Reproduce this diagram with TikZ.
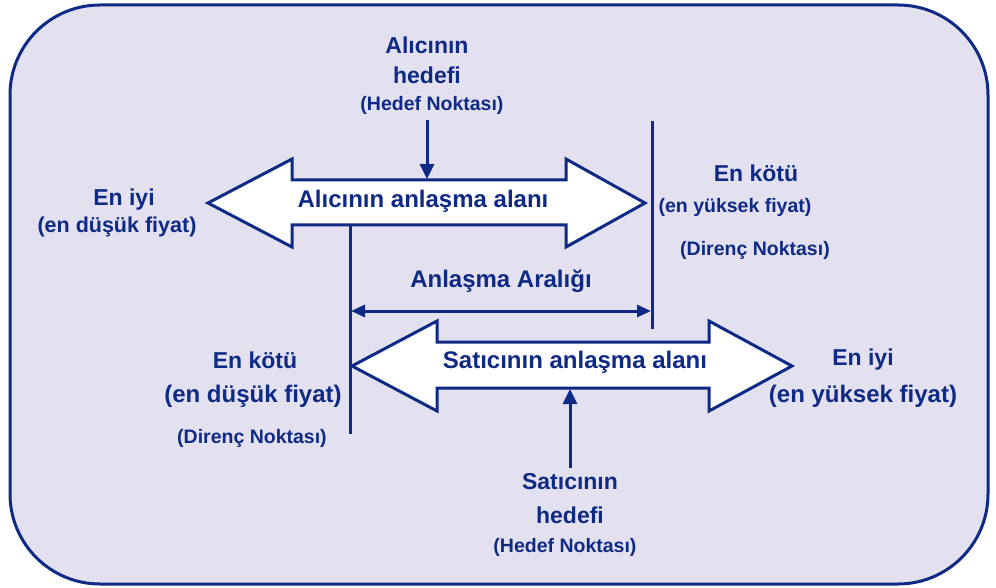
\documentclass[tikz,border=0pt]{standalone}
\usepackage{fontspec}
\setmainfont{Liberation Sans}
\usetikzlibrary{arrows.meta}
\definecolor{navy}{HTML}{0E2A85}
\definecolor{bgfill}{HTML}{E3E1EF}
\tikzset{
  lbl/.style={text=navy,font=\bfseries\fontsize{23}{26}\selectfont,align=center,inner sep=0pt},
  big/.style={text=navy,font=\bfseries\fontsize{24}{27}\selectfont,align=center,inner sep=0pt},
  mid/.style={text=navy,font=\bfseries\fontsize{21.5}{24}\selectfont,align=center,inner sep=0pt},
  sml/.style={text=navy,font=\bfseries\fontsize{19.5}{22}\selectfont,align=center,inner sep=0pt},
  bigarrow/.style={draw=navy,line width=3pt,fill=white,line join=miter},
  vline/.style={draw=navy,line width=3pt},
  ptr/.style={draw=navy,line width=3pt,-{Triangle[length=15pt,width=14pt]}},
  rng/.style={draw=navy,line width=3pt,{Triangle[length=14pt,width=12pt]}-{Triangle[length=14pt,width=12pt]}},
}
\begin{document}
\begin{tikzpicture}[x=1pt,y=-1pt]
\useasboundingbox (0,0) rectangle (996,588);
\draw[draw=navy,fill=bgfill,line width=3pt,rounded corners=90pt] (10,5) rectangle (988,584);
% buyer zone arrow
\draw[bigarrow] (208,203) -- (292,159) -- (292,180) -- (566,180) -- (566,159) -- (645,203)
  -- (566,247) -- (566,225) -- (292,225) -- (292,247) -- cycle;
\node[big] (buyer) at (423,201) {Alıcının anlaşma alanı};
% seller zone arrow
\draw[bigarrow] (352,366) -- (437,321) -- (437,342) -- (709,342) -- (709,321) -- (792,366)
  -- (709,411) -- (709,388) -- (437,388) -- (437,411) -- cycle;
\node[big] (seller) at (575,362) {Satıcının anlaşma alanı};
% resistance lines
\coordinate (l1) at (350,225);
\coordinate (l2) at (350,434);
\coordinate (r1) at (652,121);
\coordinate (r2) at (652,329);
\draw[vline] (l1) -- (l2);
\draw[vline] (r1) -- (r2);
% agreement range
\coordinate (ra) at (351,311);
\coordinate (rb) at (651,311);
\draw[rng] (ra) -- (rb);
\node[big] (range) at (501,281) {Anlaşma Aralığı};
% buyer target
\node[lbl] (bt1) at (427,45) {Alıcının};
\node[lbl] (bt2) at (427,75) {hedefi};
\node[sml] (bt3) at (432,105) {(Hedef Noktası)};
\coordinate (bta) at (427,120);
\coordinate (btb) at (427,179);
\draw[ptr] (bta) -- (btb);
% seller target
\node[lbl] (st1) at (570,482) {Satıcının};
\node[lbl] (st2) at (570,515) {hedefi};
\node[sml] (st3) at (565,547) {(Hedef Noktası)};
\coordinate (sta) at (570,468);
\coordinate (stb) at (570,389);
\draw[ptr] (sta) -- (stb);
% left top
\node[lbl] (bb1) at (124,200) {En iyi};
\node[mid] (bb2) at (117,227) {(en düşük fiyat)};
% right top
\node[lbl] (bw1) at (756,173) {En kötü};
\node[sml] (bw2) at (735,207) {(en yüksek fiyat)};
\node[sml] (bw3) at (755,250) {(Direnç Noktası)};
% lower left
\node[lbl] (sw1) at (255,360) {En kötü};
\node[big] (sw2) at (253,396) {(en düşük fiyat)};
\node[sml] (sw3) at (252,438) {(Direnç Noktası)};
% lower right
\node[lbl] (sb1) at (863,360) {En iyi};
\node[big] (sb2) at (863,396) {(en yüksek fiyat)};
\end{tikzpicture}
\end{document}
